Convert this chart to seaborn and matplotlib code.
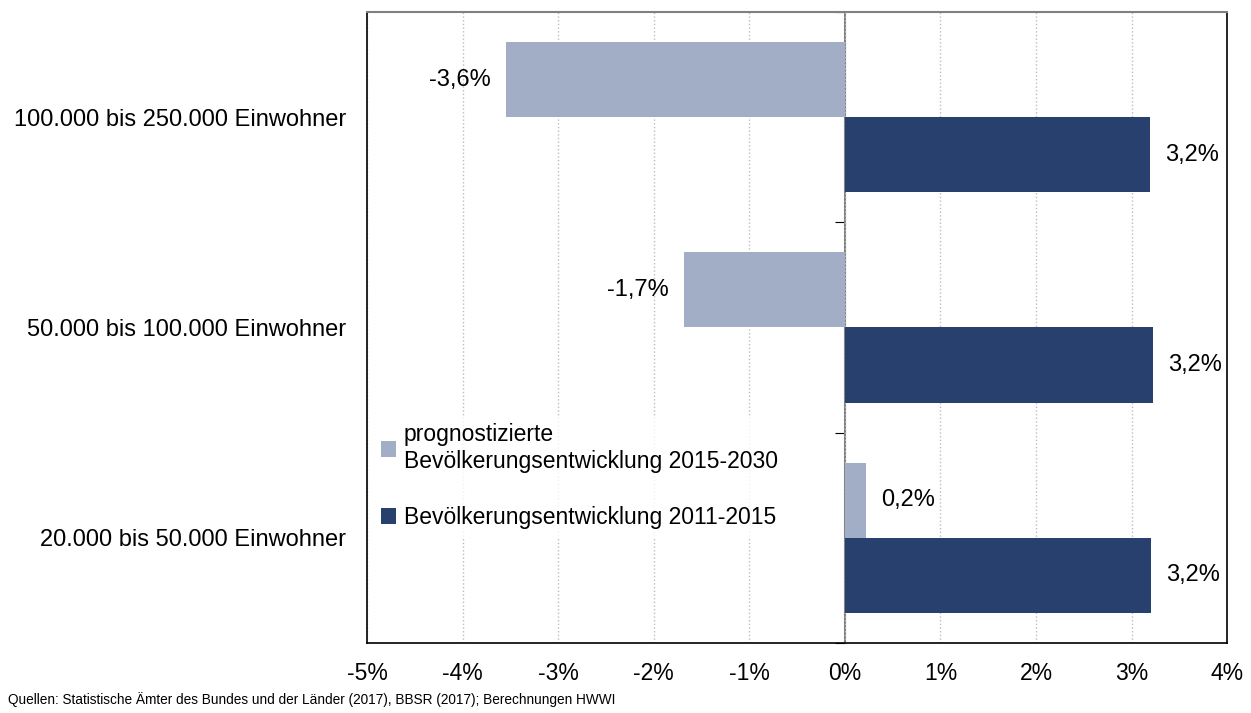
import pandas as pd
import matplotlib.pyplot as plt
import seaborn as sns

# Data
categories = ['100.000 bis 250.000 Einwohner', '50.000 bis 100.000 Einwohner', '20.000 bis 50.000 Einwohner']
series_names = ['prognostizierte\nBevölkerungsentwicklung 2015-2030', 'Bevölkerungsentwicklung 2011-2015']
prognose = [-3.55, -1.68, 0.22]
entwicklung = [3.19, 3.22, 3.20]
prognose_labels = ['-3,6%', '-1,7%', '0,2%']
entwicklung_labels = ['3,2%', '3,2%', '3,2%']
x_ticks = [-5, -4, -3, -2, -1, 0, 1, 2, 3, 4]

colors = ['#a2aec5', '#28406d']

df = pd.DataFrame({
    'Kategorie': categories * 2,
    'Serie': [series_names[0]] * 3 + [series_names[1]] * 3,
    'Wert': prognose + entwicklung,
})

sns.set_style('white')
plt.rcParams['font.family'] = ['Liberation Sans', 'DejaVu Sans']
plt.rcParams['text.color'] = 'black'
plt.rcParams['xtick.color'] = 'black'
plt.rcParams['ytick.color'] = 'black'

fig = plt.figure(figsize=(12.51, 7.13), dpi=100)
ax = fig.add_axes([0.2934, 0.0982, 0.6875, 0.8850])

sns.barplot(data=df, x='Wert', y='Kategorie', hue='Serie', orient='h',
            order=categories, hue_order=series_names, palette=colors,
            width=0.714, saturation=1, linewidth=0, ax=ax)

# value labels
for cont, labs in zip(ax.containers, [prognose_labels, entwicklung_labels]):
    ax.bar_label(cont, labels=labs, padding=11, fontsize=17)

ax.set_xlim(-5, 4)
ax.set_ylim(2.5, -0.5)
ax.set_xticks(x_ticks)
ax.set_xticklabels([f'{t}%' for t in x_ticks], fontsize=16.5)
ax.tick_params(axis='x', direction='out', length=6, width=1, color='black', pad=8)
ax.set_xlabel('')
ax.set_ylabel('')

# grid lines
ax.grid(axis='x', linestyle=':', color='#bdbdbd', linewidth=1)
ax.grid(axis='y', visible=False)
ax.set_axisbelow(True)

# category labels on the left, ticks hidden
ax.set_yticks(range(len(categories)))
ax.set_yticklabels(categories, fontsize=17)
ax.tick_params(axis='y', length=0, pad=15)

# zero line with ticks at the category boundaries
sec = ax.secondary_yaxis(5 / 9)
sec.set_yticks([-0.5, 0.5, 1.5, 2.5])
sec.set_yticklabels([])
sec.tick_params(axis='y', direction='in', length=7, color='black')
sec.spines['right'].set_color('#808080')
sec.spines['right'].set_linewidth(1.5)

for side in ['left', 'bottom', 'right']:
    ax.spines[side].set_color('black')
    ax.spines[side].set_linewidth(1.2)
ax.spines['top'].set_color('#808080')
ax.spines['top'].set_linewidth(1.5)

leg = ax.legend(loc='upper left', bbox_to_anchor=(0.0, 0.37), frameon=True,
                fontsize=16.5, handlelength=0.65, handleheight=0.65, handletextpad=0.35,
                labelspacing=1.45, borderaxespad=0.3, borderpad=0.3)
leg.get_frame().set_facecolor('white')
leg.get_frame().set_edgecolor('white')

fig.text(0.006, 0.008, 'Quellen: Statistische Ämter des Bundes und der Länder (2017), BBSR (2017); Berechnungen HWWI',
         fontsize=9.8, va='bottom', ha='left')

fig.savefig('out.png', dpi=100)
